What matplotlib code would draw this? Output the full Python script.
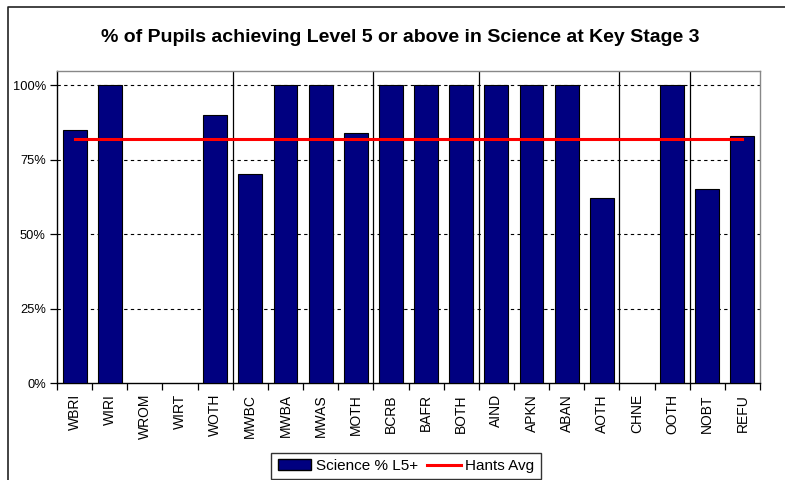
import matplotlib
matplotlib.use("Agg")
import matplotlib.pyplot as plt
from matplotlib.patches import Patch
from matplotlib.lines import Line2D
import numpy as np

plt.rcParams['font.family'] = ['Liberation Sans', 'DejaVu Sans']

categories = ["WBRI", "WIRI", "WROM", "WIRT", "WOTH", "MWBC", "MWBA", "MWAS", "MOTH",
              "BCRB", "BAFR", "BOTH", "AIND", "APKN", "ABAN", "AOTH", "CHNE", "OOTH",
              "NOBT", "REFU"]
science_pct = [0.85, 1.00, 0.0, 0.0, 0.90, 0.70, 1.00, 1.00, 0.84,
               1.00, 1.00, 1.00, 1.00, 1.00, 1.00, 0.62, 0.0, 1.00,
               0.65, 0.83]
hants_avg = 0.82
group_breaks = [5, 9, 12, 16, 18]
y_ticks = [0, 0.25, 0.5, 0.75, 1.0]
y_tick_labels = ["0%", "25%", "50%", "75%", "100%"]

W, H = 785, 480
fig = plt.figure(figsize=(W / 100, H / 100), dpi=100)
fig.patch.set_facecolor("white")

# outer chart border (left and top visible)
fig.add_artist(Line2D([8 / W, 8 / W, 1.0], [0.0, 1 - 6.5 / H, 1 - 6.5 / H],
                      transform=fig.transFigure, color="#222222", lw=1.2))

left, right, top, bottom = 57, 760, 71, 383
ax = fig.add_axes([left / W, 1 - bottom / H, (right - left) / W, (bottom - top) / H])

n = len(categories)
x = np.arange(n)
edge_colors = ["black" if v > 0 else "none" for v in science_pct]
ax.bar(x, science_pct, width=0.68, color="#000080", edgecolor=edge_colors, linewidth=0.8, zorder=3)
ax.plot([x[0], x[-1]], [hants_avg, hants_avg], color="#ff0000", lw=2.2, zorder=4)

ax.set_xlim(-0.5, n - 0.5)
ax.set_ylim(0, 1.047)

for b in group_breaks:
    ax.axvline(b - 0.5, color="black", lw=0.9, zorder=2)

ax.set_yticks(y_ticks)
ax.set_yticklabels(y_tick_labels, fontsize=9.3)
for yv in y_ticks[1:]:
    ax.axhline(yv, color="black", lw=0.8, ls=(0, (3, 3)), zorder=1)

ax.set_xticks(np.arange(n + 1) - 0.5, minor=False)
ax.set_xticklabels([])
ax.set_xticks(x, minor=True)
ax.set_xticklabels(categories, minor=True, rotation=90, fontsize=10)
ax.tick_params(axis="x", which="minor", length=0, pad=8)
ax.tick_params(axis="x", which="major", length=5, direction="out", width=0.9)
ax.tick_params(axis="y", length=5, direction="out", width=0.9, pad=3)

for side in ["top", "right"]:
    ax.spines[side].set_color("#888888")
for side in ["left", "bottom"]:
    ax.spines[side].set_color("black")
for s in ax.spines.values():
    s.set_linewidth(1.0)

fig.text(400 / W, 1 - 38 / H, "% of Pupils achieving Level 5 or above in Science at Key Stage 3",
         ha="center", va="center", fontsize=14, fontweight="bold")

handles = [Patch(facecolor="#000080", edgecolor="black", label="Science % L5+"),
           Line2D([0], [0], color="#ff0000", lw=2.2, label="Hants Avg")]
leg = fig.legend(handles=handles, loc="center", bbox_to_anchor=(406 / W, 1 - 466 / H),
                 ncol=2, fontsize=11, frameon=True, fancybox=False, edgecolor="black",
                 handlelength=2.2, handletextpad=0.3, columnspacing=0.6, borderpad=0.4)
leg.get_frame().set_linewidth(1.0)

fig.savefig("out.png", dpi=100)
